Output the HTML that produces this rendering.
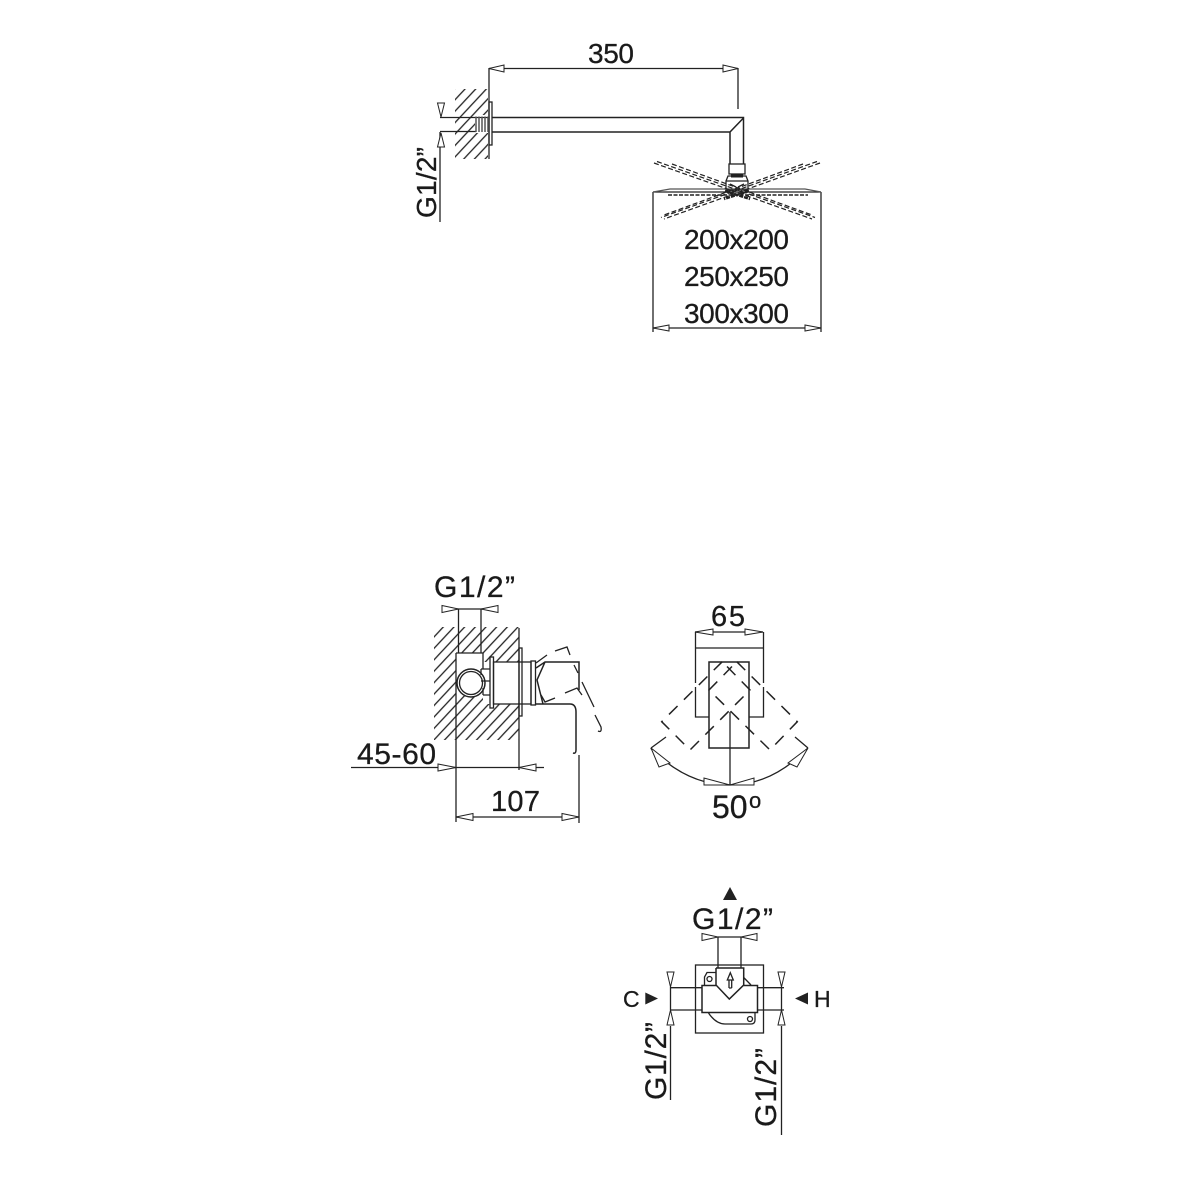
<!DOCTYPE html>
<html>
<head>
<meta charset="utf-8">
<style>
html,body{margin:0;padding:0;background:#fff}
svg{display:block}
text{font-family:"Liberation Sans",sans-serif;font-size:28px;fill:#1a1a1a;stroke:#1a1a1a;stroke-width:.3}
.b{font-size:30px}
.l{fill:none;stroke:#222;stroke-width:1.3}
.t{fill:none;stroke:#222;stroke-width:1.5}
.d{fill:none;stroke:#222;stroke-width:1.5;stroke-dasharray:12 9}
.s{fill:none;stroke:#222;stroke-width:1.2;stroke-dasharray:5 2.5}
.a{fill:#fff;stroke:#222;stroke-width:1}
</style>
</head>
<body>
<svg width="1181" height="1181" viewBox="0 0 1181 1181" xmlns="http://www.w3.org/2000/svg">
<defs>
<pattern id="h" patternUnits="userSpaceOnUse" width="7.800" height="7.800" patternTransform="rotate(-47)">
<line x1="0" y1="3" x2="7.800" y2="3" stroke="#222" stroke-width="1.300"/>
</pattern>
</defs>
<rect width="1181" height="1181" fill="#fff"/>

<!-- TOP: shower arm -->
<rect x="455" y="89" width="33" height="70" fill="url(#h)"/>
<rect x="475" y="115" width="14" height="18" fill="#fff"/>
<path class="l" d="M489 68V159M489 68.500H738M738 68V109"/>
<polygon class="a" points="489,68.500 504,65 504,72"/>
<polygon class="a" points="738,68.500 723,65 723,72"/>
<rect class="l" x="489" y="102" width="3" height="43"/>
<path class="t" d="M492 117.500H743.500V164M492 132H730V164M730 132L743.500 118"/>
<path class="l" d="M440 117.500H489M440 131.500H476M440 132V222"/>
<path d="M476 116.500V132M479 116.500V132M482 116.500V132M485 116.500V132M488 116.500V132" stroke="#555" stroke-width="1.500" fill="none"/>
<polygon class="a" points="441,117 437.500,103 444.500,103"/>
<polygon class="a" points="441,133 437.500,147 444.500,147"/>
<text transform="translate(436,218) rotate(-90)" textLength="71">G1/2”</text>
<text x="588" y="63" textLength="46">350</text>

<!-- shower head -->
<rect class="l" x="729" y="164" width="16" height="10"/>
<rect x="731" y="173.500" width="12" height="4" fill="#222"/>
<path class="l" d="M728 176H746L748 181V190H726V181Z"/>
<path class="l" d="M726 181H748M730 184L736 187M744 184L738 187"/>
<path class="l" d="M653 192H821M653 192V332M821 192V332"/>
<path d="M653 192L670 189H805L821 192" fill="none" stroke="#555" stroke-width="1.200"/>
<path d="M668 195H808" fill="none" stroke="#222" stroke-width="1.500" stroke-dasharray="4 1.500"/>
<path class="s" d="M654 163L812 219M657 161.500L815 217.500M672 164L812 215"/>
<path class="s" d="M820 163L664 219M817 161.500L661 217.500M803 164L664 215"/>
<path d="M725 191L750 199" stroke="#222" stroke-width="2.500" fill="none" stroke-dasharray="4 1"/>
<path d="M749 191L724 199" stroke="#222" stroke-width="2.500" fill="none" stroke-dasharray="4 1"/>
<text x="684" y="249" textLength="105">200x200</text>
<text x="684" y="286" textLength="105">250x250</text>
<text x="684" y="323" textLength="105">300x300</text>
<path class="l" d="M653 328H821"/>
<polygon class="a" points="653,328 669,325 669,331"/>
<polygon class="a" points="821,328 805,325 805,331"/>

<!-- MIDDLE LEFT: mixer side -->
<text class="b" x="434" y="597" textLength="81">G1/2”</text>
<rect x="434" y="627" width="85" height="113" fill="url(#h)"/>
<rect x="456" y="653" width="27" height="43" fill="#fff"/>
<rect x="483" y="662" width="36" height="42" fill="#fff"/>
<path class="l" d="M458.500 609V653M481 609V653"/>
<path class="l" d="M442 609H498"/>
<polygon class="a" points="458.500,609 442,605.500 442,612.500"/>
<polygon class="a" points="481,609 498,605.500 498,612.500"/>
<path class="l" d="M456 653V822M456 653H483V669M519 628V770M579 755V823"/>
<circle class="t" cx="471" cy="683" r="14"/>
<circle class="l" cx="471" cy="683" r="11.500"/>
<path class="l" d="M481 669H490M481 681H490M483 695H490M481 669V675M483 688V695"/>
<rect class="l" x="490" y="657" width="3.500" height="51" fill="#fff"/>
<rect class="l" x="493.500" y="662" width="37.500" height="42"/>
<rect class="l" x="519" y="648" width="3" height="68" fill="#fff"/>
<rect class="l" x="531" y="661" width="4.500" height="44"/>
<path class="t" d="M536 668L545 662H579V690M545 662L537 680L543 704"/>
<path class="t" d="M536 704H570Q576 704 576 712V750Q576 754 573 753"/>
<path class="l" d="M536 663L547 655M555 651L567 647L570 655M574 665L578 673M582 682L594 707M595 715L601 727Q602 733 598 731"/>
<path class="l" d="M541 695L545 702L555 698M565 693L577 688L582 695"/>
<text class="b" x="357" y="764" textLength="79">45-60</text>
<path class="l" d="M351 767.500H544"/>
<polygon class="a" points="456,767.500 438,764 438,771"/>
<polygon class="a" points="519,767.500 536,764 536,771"/>
<text x="491" y="811" textLength="49" style="font-size:29px">107</text>
<path class="l" d="M456 817H579"/>
<polygon class="a" points="456,817 473,813.500 473,820.500"/>
<polygon class="a" points="579,817 562,813.500 562,820.500"/>

<!-- MIDDLE RIGHT: mixer front -->
<text x="711" y="626" textLength="34" style="font-size:29px">65</text>
<path class="l" d="M695 632H763M695.500 632V683M695.500 687V717H709M763.500 632V683M763.500 687V717H749M695 648H763"/>
<polygon class="a" points="695,632 713,629 713,635"/>
<polygon class="a" points="763,632 745,629 745,635"/>
<rect class="t" x="709" y="662" width="40" height="86"/>
<path class="d" d="M722.300 661.700L661.700 721.700L690 750L750 690Z"/>
<path class="d" d="M736.700 661.700L797.300 721.700L770 750L709 690Z"/>
<path class="l" d="M730 712V785"/>
<path class="l" d="M651 748L666 737M808 748L795 737"/>
<path class="l" d="M650.700 748.300Q687 785 730 785Q772 785 807.700 748.300"/>
<polygon class="a" points="651,748 659,767 670,763"/>
<polygon class="a" points="808,748 788,763 797,767"/>
<polygon class="a" points="730,785 704,778 704,785"/>
<polygon class="a" points="730,785 754,778 754,785"/>
<text x="712" y="818" style="font-size:32px">50</text>
<text x="749" y="808" style="font-size:22px">o</text>

<!-- BOTTOM: valve -->
<polygon points="730,887 723,900 737,900" fill="#222"/>
<text class="b" x="692" y="929" textLength="81">G1/2”</text>
<path class="l" d="M718 937H741M718 937V968M741 937V968"/>
<polygon class="a" points="718,937 702,933.500 702,940.500"/>
<polygon class="a" points="741,937 757,933.500 757,940.500"/>
<rect class="l" x="695.500" y="965" width="68" height="68"/>
<path class="t" d="M716 985.500H702V1012.500H757.500V985.500H743.700"/>
<path class="t" d="M716 968H743.700V985L729.300 999L716 985V968"/>
<path class="l" d="M670 987.700H702M670 1010H702M757.500 987.700H784M757.500 1010H784"/>
<path class="l" d="M670.500 987V1010M670.500 1026V1100M781.500 987V1010M781.500 1026V1135"/>
<polygon class="a" points="670.500,987 667,972 674,972"/>
<polygon class="a" points="670.500,1010 667,1025 674,1025"/>
<polygon class="a" points="781.500,987 778,972 785,972"/>
<polygon class="a" points="781.500,1010 778,1025 785,1025"/>
<path class="l" d="M704.500 985V977L707 972.500H716"/>
<circle class="l" cx="709.500" cy="979" r="2.500"/>
<path class="l" d="M743.700 977.500L751 985"/>
<path class="l" d="M708.500 1013Q716 1024 725 1024H751Q755 1024 755 1020V1012"/>
<circle class="l" cx="750" cy="1019" r="2.500"/>
<path class="l" d="M730.300 972.700L727.300 980H733.300ZM729 980V988M731.700 980V988M729 988H731.700"/>
<polygon points="645.300,992.500 645.300,1004.500 658,998.500" fill="#222"/>
<polygon points="795,998.500 808,992.500 808,1004.500" fill="#222"/>
<text x="623" y="1007" style="font-size:23px">C</text>
<text x="814" y="1007" style="font-size:23px">H</text>
<text class="b" transform="translate(666,1100) rotate(-90)" textLength="78">G1/2”</text>
<text class="b" transform="translate(776,1127) rotate(-90)" textLength="79">G1/2”</text>
</svg>
</body>
</html>
